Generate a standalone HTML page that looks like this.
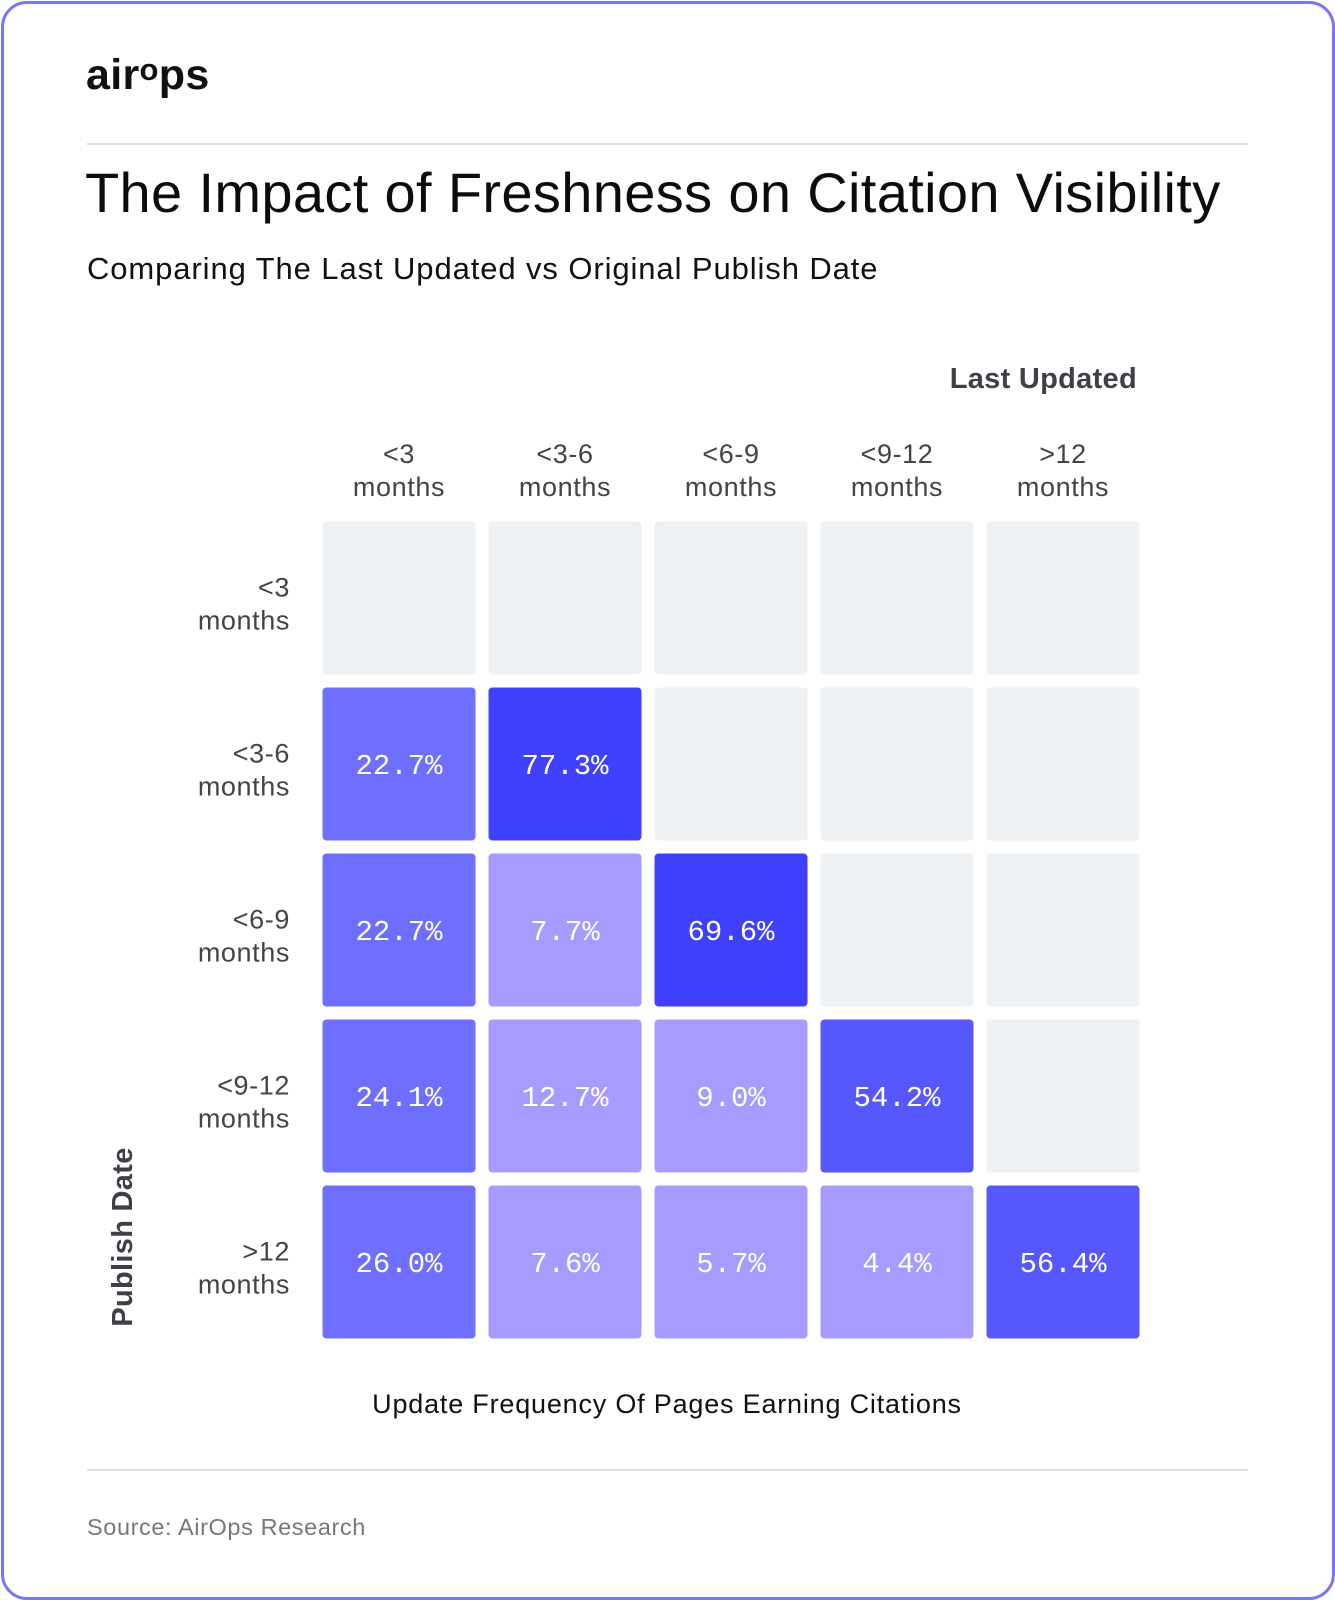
<!DOCTYPE html>
<html><head><meta charset="utf-8"><style>
html,body{margin:0;padding:0;background:#fff;}
body{width:1335px;height:1600px;position:relative;overflow:hidden;font-family:"Liberation Sans",sans-serif;}
#card{position:absolute;left:1px;top:1px;width:1328px;height:1593px;border:3px solid #7676fa;border-radius:26px;}
.abs{position:absolute;white-space:nowrap;}
</style></head><body>
<div id="card"></div>
<div class="abs" style="left:86px;top:51px;font-size:43px;font-weight:bold;letter-spacing:0.3px;color:#111;">air<span style="position:relative;top:-9px;font-size:31px;">o</span>ps</div>
<div class="abs" style="left:87px;top:143px;width:1161px;height:1.5px;background:#ddd;"></div>
<div class="abs" style="left:85px;top:160px;font-size:56px;color:#0c0c0c;letter-spacing:0.35px;">The Impact of Freshness on Citation Visibility</div>
<div class="abs" style="left:87px;top:251px;font-size:31px;color:#111;letter-spacing:0.9px;">Comparing The Last Updated vs Original Publish Date</div>
<svg id="chart" width="1335" height="1600" style="position:absolute;left:0;top:0"></svg>
<div class="abs" style="left:87px;top:1469px;width:1161px;height:1.5px;background:#ddd;"></div>
<div class="abs" style="left:87px;top:1514px;font-size:23.5px;color:#777;letter-spacing:0.6px;">Source: AirOps Research</div>
<script>
const colLabels=["<3","<3-6","<6-9","<9-12",">12"];
const rowLabels=["<3","<3-6","<6-9","<9-12",">12"];
const row0=[null,null,null,null,null];
const row1=[22.7,77.3,null,null,null];
const row2=[22.7,7.7,69.6,null,null];
const row3=[24.1,12.7,9.0,54.2,null];
const row4=[26.0,7.6,5.7,4.4,56.4];
const values=[row0,row1,row2,row3,row4];
const NS="http://www.w3.org/2000/svg";
const svg=document.getElementById('chart');
const x0=322.5,y0=521.5,pitch=166,size=153;
const xPos=i=>x0+i*pitch, yPos=j=>y0+j*pitch;
function color(v){if(v==null)return"#edf1f3";if(v>=60)return"#4040ff";if(v>=40)return"#5757ff";if(v>=20)return"#6e6eff";return"#a89bff";}
function mk(tag,attrs){const e=document.createElementNS(NS,tag);for(const k in attrs)e.setAttribute(k,attrs[k]);svg.appendChild(e);return e;}
values.forEach((row,j)=>{row.forEach((v,i)=>{
 const r=mk('rect',{x:xPos(i),y:yPos(j),width:size,height:size,rx:4,fill:color(v)});
 
 
 if(v!=null){const t=mk('text',{x:xPos(i)+size/2,y:yPos(j)+size/2+10,'text-anchor':'middle','font-family':'"Liberation Mono",monospace','font-size':29,fill:'#fff'});
  t.textContent=v.toFixed(1)+'%';
  
  }
});});
colLabels.forEach((l,i)=>{
 const t=mk('text',{x:xPos(i)+size/2,y:463,'text-anchor':'middle','font-size':27,'letter-spacing':0.6,fill:'#444'});
 t.textContent=l;
 
 
 const t2=mk('text',{x:xPos(i)+size/2,y:496,'text-anchor':'middle','font-size':27,'letter-spacing':0.6,fill:'#444'});
 t2.textContent='months';
 
 
});
rowLabels.forEach((l,j)=>{
 const t=mk('text',{x:290,y:yPos(j)+75,'text-anchor':'end','font-size':27,'letter-spacing':0.6,fill:'#444'});
 t.textContent=l;
 
 
 const t2=mk('text',{x:290,y:yPos(j)+108,'text-anchor':'end','font-size':27,'letter-spacing':0.6,fill:'#444'});
 t2.textContent='months';
 
 
});
const lu=mk('text',{x:1137,y:388,'text-anchor':'end','font-size':29,'font-weight':'bold','letter-spacing':0.3,fill:'#3f3f48'});
lu.textContent='Last Updated';


const pd=mk('text',{x:0,y:0,'text-anchor':'middle','font-size':29,'font-weight':'bold','letter-spacing':0.3,fill:'#3f3f48',transform:'translate(132,1237) rotate(-90)'});
pd.textContent='Publish Date';


const bt=mk('text',{x:667,y:1413,'text-anchor':'middle','font-size':27,'letter-spacing':0.8,fill:'#111'});
bt.textContent='Update Frequency Of Pages Earning Citations';


</script>
</body></html>
